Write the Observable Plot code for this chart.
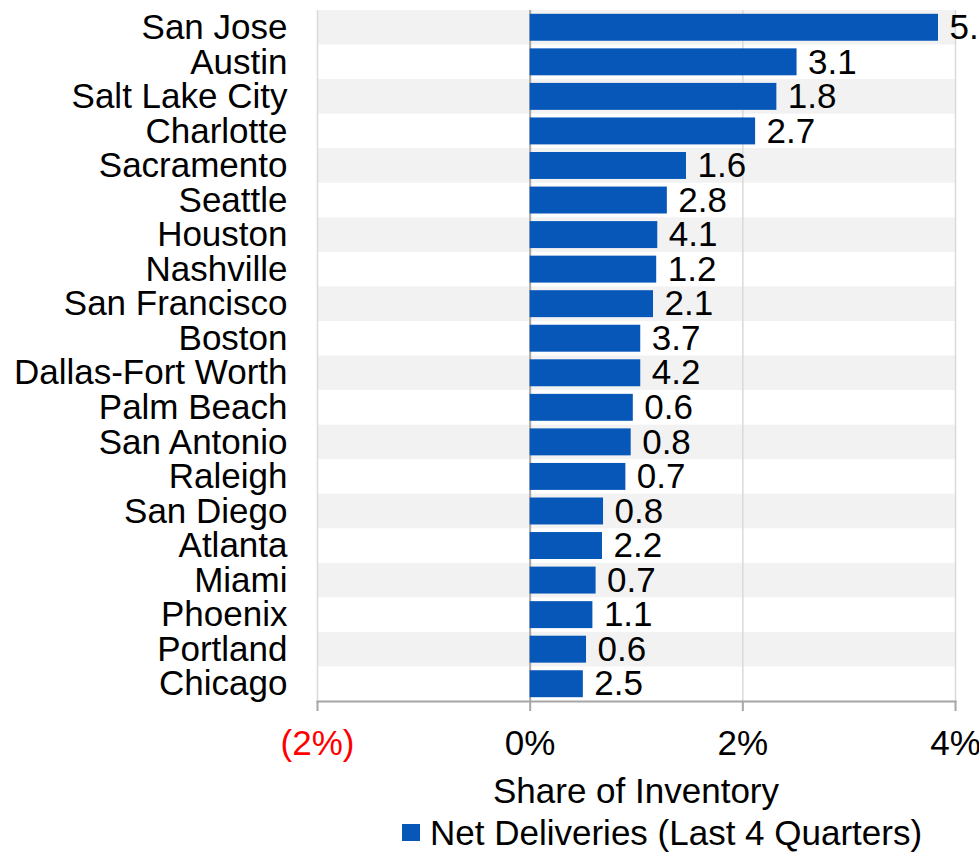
<!DOCTYPE html>
<html>
<head>
<meta charset="utf-8">
<script src="https://cdn.jsdelivr.net/npm/d3@7"></script>
<script src="https://cdn.jsdelivr.net/npm/@observablehq/plot@0.6"></script>
<style>
  html, body { margin: 0; padding: 0; background: #fff; overflow: hidden; }
  body { width: 979px; height: 853px; font-family: "Liberation Sans", Arial, sans-serif; color: #000; }
  #chart svg { display: block; overflow: visible; }
  .axis-title { width: 638px; margin-left: 317px; text-align: center; font-size: 35px; height: 42px; line-height: 42px; white-space: nowrap; }
  .legend { height: 41px; line-height: 41px; font-size: 35px; padding-left: 402px; white-space: nowrap; display: flex; align-items: center; }
  .legend .sw { width: 18px; height: 17px; background: #0757b8; margin-right: 10px; display: inline-block; }
</style>
</head>
<body>
<div id="chart"></div>
<div class="axis-title" id="axisTitle"></div>
<div class="legend"><span class="sw"></span><span id="legendText"></span></div>
<script>
const cities = ["San Jose","Austin","Salt Lake City","Charlotte","Sacramento","Seattle","Houston","Nashville","San Francisco","Boston","Dallas-Fort Worth","Palm Beach","San Antonio","Raleigh","San Diego","Atlanta","Miami","Phoenix","Portland","Chicago"];
const shareOfInventory = [3.84, 2.51, 2.32, 2.12, 1.47, 1.29, 1.20, 1.19, 1.16, 1.04, 1.04, 0.97, 0.95, 0.90, 0.69, 0.68, 0.62, 0.59, 0.53, 0.50];
const valueLabels = ["5.2","3.1","1.8","2.7","1.6","2.8","4.1","1.2","2.1","3.7","4.2","0.6","0.8","0.7","0.8","2.2","0.7","1.1","0.6","2.5"];
const xTicks = [-2, 0, 2, 4];
const xDomain = [-2, 4];
const seriesName = "Net Deliveries (Last 4 Quarters)";
const axisTitle = "Share of Inventory";

const data = cities.map((c, i) => ({city: c, value: shareOfInventory[i], label: valueLabels[i], idx: i}));
const stripes = data.filter(d => d.idx % 2 === 0);
const fmt = d => d < 0 ? `(${-d}%)` : `${d}%`;

const barColor = "#0757b8";
const W = 979, H = 770;

const plot = Plot.plot({
  width: W,
  height: H,
  marginLeft: 317,
  marginRight: 24,
  marginTop: 10,
  marginBottom: H - 701,
  style: {fontFamily: "'Liberation Sans', Arial, sans-serif", fontSize: "35px", color: "#000", background: "#fff"},
  x: {domain: xDomain, label: null},
  y: {domain: cities, padding: 0, round: false, label: null},
  marks: [
    Plot.barX(stripes, {y: "city", x1: xDomain[0], x2: xDomain[1], fill: "#f2f2f2"}),
    Plot.ruleX(xTicks.filter(t => t !== 0), {stroke: "#d9d9d9", strokeWidth: 1.5}),
    Plot.ruleX([0], {stroke: "#a6a6a6", strokeWidth: 2}),
    Plot.barX(data, {y: "city", x: "value", fill: barColor, insetTop: 3.8, insetBottom: 3.8}),
    Plot.text(data, {y: "city", x: "value", text: "label", textAnchor: "start", dx: 11, fill: "#000", fontSize: 35}),
    Plot.axisY({tickSize: 0, tickPadding: 30, fontSize: 35, fill: "#000", label: null}),
    Plot.axisX(xTicks.filter(t => t < 0), {tickSize: 10, tickPadding: 19, stroke: "#a6a6a6", strokeWidth: 2, fill: "#ff0000", tickFormat: fmt, fontSize: 35, label: null}),
    Plot.axisX(xTicks.filter(t => t >= 0), {tickSize: 10, tickPadding: 19, stroke: "#a6a6a6", strokeWidth: 2, fill: "#000", tickFormat: fmt, fontSize: 35, label: null}),
    Plot.frame({anchor: "bottom", stroke: "#a6a6a6", strokeWidth: 2})
  ]
});

document.getElementById("chart").appendChild(plot);
document.getElementById("axisTitle").textContent = axisTitle;
document.getElementById("legendText").textContent = seriesName;
</script>
</body>
</html>
